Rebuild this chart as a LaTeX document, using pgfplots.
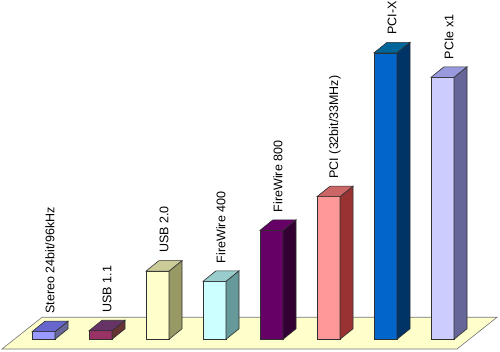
\documentclass[border=0pt]{standalone}
\usepackage{pgfplots}
\pgfplotsset{compat=1.18}
\usepackage{fontspec}
\setmainfont{Liberation Sans}
\pgfdeclareplotmark{empty}{}
\definecolor{edge}{HTML}{303030}
\definecolor{floorc}{HTML}{FFFFCC}
\definecolor{f1}{HTML}{9999FF}\definecolor{t1}{HTML}{6666CC}\definecolor{s1}{HTML}{666699}
\definecolor{f2}{HTML}{993366}\definecolor{t2}{HTML}{663366}\definecolor{s2}{HTML}{663333}
\definecolor{f3}{HTML}{FFFFCC}\definecolor{t3}{HTML}{CCCC99}\definecolor{s3}{HTML}{999966}
\definecolor{f4}{HTML}{CCFFFF}\definecolor{t4}{HTML}{99CCCC}\definecolor{s4}{HTML}{669999}
\definecolor{f5}{HTML}{660066}\definecolor{t5}{HTML}{660066}\definecolor{s5}{HTML}{330033}
\definecolor{f6}{HTML}{FF9999}\definecolor{t6}{HTML}{CC6666}\definecolor{s6}{HTML}{993333}
\definecolor{f7}{HTML}{0066CC}\definecolor{t7}{HTML}{006699}\definecolor{s7}{HTML}{003366}
\definecolor{f8}{HTML}{CCCCFF}\definecolor{t8}{HTML}{9999DD}\definecolor{s8}{HTML}{666699}
\newcommand\tdbar[6]{%
\addplot[scatter, only marks, mark=empty,
  visualization depends on={rawy \as \rawy},
  scatter/@pre marker code/.code={%
    \pgfmathsetmacro\H{(\rawy+6.86)*1.02}%
    \filldraw[fill=#3, draw=edge, line width=0.6pt] (-11.5pt,0pt) rectangle (11.5pt,-\H pt);
    \filldraw[fill=#5, draw=edge, line width=0.6pt] (11.5pt,0pt) -- (24.5pt,10.5pt) -- (24.5pt,10.5pt-\H pt) -- (11.5pt,-\H pt) -- cycle;
    \filldraw[fill=#4, draw=edge, line width=0.6pt] (-11.5pt,0pt) -- (11.5pt,0pt) -- (24.5pt,10.5pt) -- (1.5pt,10.5pt) -- cycle;
    \node[rotate=90, anchor=west, inner sep=0pt, font=\fontsize{12.5pt}{14pt}\selectfont] at (6.5pt,18pt) {#6};
  },
  scatter/@post marker code/.code={}]
  coordinates {(#1,#2)};
}
\begin{document}
\begin{tikzpicture}
\begin{axis}[
  x=57pt, y=1.02pt,
  xmin=0.2368, xmax=9.0088,
  ymin=-19.31, ymax=325.79,
  hide axis, clip=false,
  point meta min=0, point meta max=1,
]
\addplot[fill=floorc, draw=gray!90!black, line width=0.6pt] coordinates {(0.2719,-16.37) (8.2544,-16.37) (8.9561,14.71) (0.9737,14.71)} -- cycle;
\tdbar{1}{0.6}{f1}{t1}{s1}{Stereo 24bit/96kHz}
\tdbar{2}{1.5}{f2}{t2}{s2}{USB 1.1}
\tdbar{3}{60}{f3}{t3}{s3}{USB 2.0}
\tdbar{4}{50}{f4}{t4}{s4}{FireWire 400}
\tdbar{5}{100}{f5}{t5}{s5}{FireWire 800}
\tdbar{6}{133}{f6}{t6}{s6}{PCI (32bit/33MHz)}
\tdbar{7}{274}{f7}{t7}{s7}{PCI-X}
\tdbar{8}{250}{f8}{t8}{s8}{PCIe x1}
\end{axis}
\pgfresetboundingbox
\useasboundingbox (current axis.south west) rectangle (current axis.north east);
\end{tikzpicture}
\end{document}
